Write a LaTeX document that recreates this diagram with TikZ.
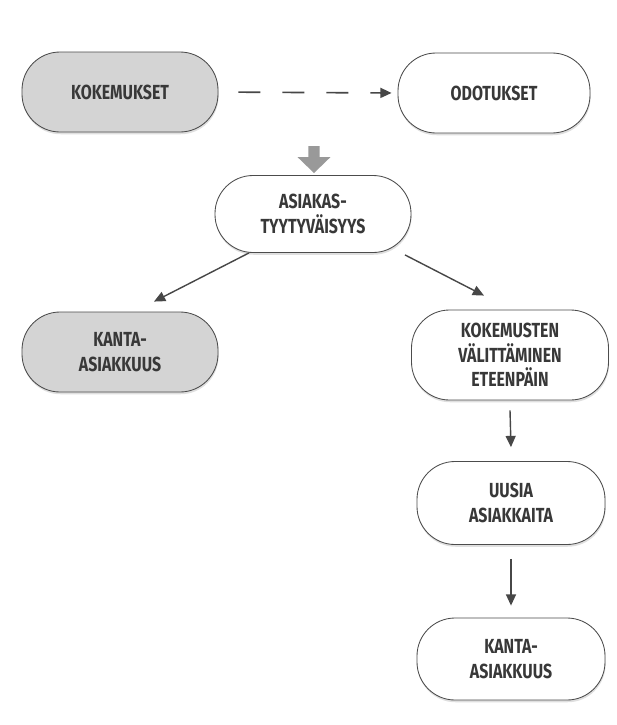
\documentclass[tikz,border=0pt]{standalone}
\usepackage{fontspec}
\setmainfont{Fira Sans}[FakeStretch=0.78]
\usepackage{tikz}
\usetikzlibrary{arrows.meta,calc,shadows}

\tikzset{
	box/.style={draw=black!70, line width=0.6pt, rounded corners=0.95cm, align=center,
		font=\bfseries\fontsize{14.5}{17.5}\selectfont, text=black!78,
		minimum width=4.9cm, minimum height=2.0cm, inner sep=2pt,
		drop shadow={shadow xshift=0.4pt, shadow yshift=-1.6pt, opacity=0.25}},
	greybox/.style={box, fill=black!17},
	whitebox/.style={box, fill=white},
	arr/.style={draw=black!72, line width=1pt, -{Triangle[length=2.8mm,width=2.5mm]}}
}

\begin{document}
\begin{tikzpicture}
	\fill[white] (0,0) rectangle (15.4,-18.125);
	\useasboundingbox (0,0) rectangle (15.4,-18.125);

	\node[greybox] (kok) at (3.0,-2.3) {KOKEMUKSET};
	\node[whitebox, minimum width=4.8cm] (odo) at (12.35,-2.325) {ODOTUKSET};
	\node[whitebox, minimum height=1.925cm] (asi) at (7.825,-5.35) {ASIAKAS-\\TYYTYVÄISYYS};
	\node[greybox] (kantaL) at (3.0,-8.8) {KANTA-\\ASIAKKUUS};
	\node[whitebox, minimum width=4.925cm, minimum height=2.25cm] (valit) at (12.75,-8.875) {KOKEMUSTEN\\VÄLITTÄMINEN\\ETEENPÄIN};
	\node[whitebox, minimum width=4.7cm, minimum height=2.075cm] (uusia) at (12.775,-12.575) {UUSIA\\ASIAKKAITA};
	\node[whitebox, minimum width=4.7cm, minimum height=2.05cm] (kantaR) at (12.775,-16.475) {KANTA-\\ASIAKKUUS};

	\coordinate (cmp) at (7.85,-3.65);

	\draw[arr, line width=1.2pt, dash pattern=on 0.55cm off 0.55cm] (kok.east) -- (odo.west)
		[shorten <=0.5cm, shorten >=0.15cm];
	\draw[draw=black!40, line width=0.28cm, -{Triangle[length=0.4cm,width=0.8cm]}]
		(cmp) -- ($(asi.north)+(0.025,0.05)$);
	\draw[arr] ($(asi.south)+(-1.6,0)$) -- ($(kantaL.north)+(0.85,0.25)$);
	\draw[arr] ($(asi.south)+(2.3,-0.05)$) -- ($(valit.north)+(-0.65,0.35)$);
	\draw[arr] ($(valit.south)+(0,-0.25)$) -- ($(uusia.north)+(0,0.35)$);
	\draw[arr] ($(uusia.south)+(0,-0.35)$) -- ($(kantaR.north)+(0,0.3)$);
\end{tikzpicture}
\end{document}
